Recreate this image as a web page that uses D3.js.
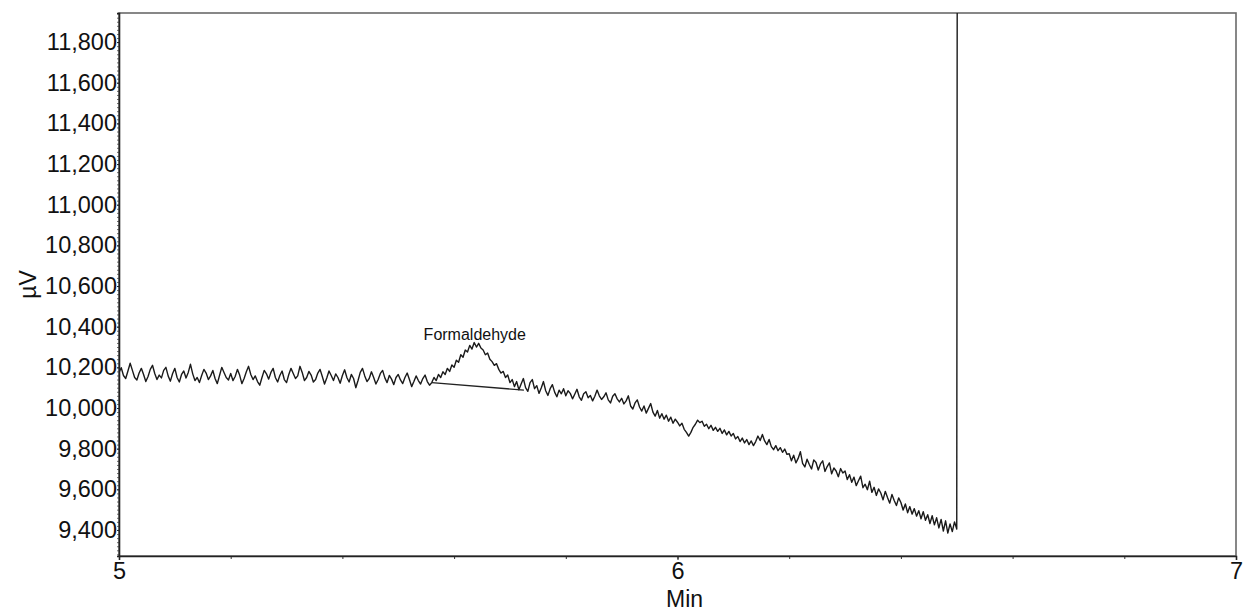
<!DOCTYPE html>
<html>
<head>
<meta charset="utf-8">
<script src="https://cdn.jsdelivr.net/npm/d3@7"></script>
<style>
  html, body { margin: 0; padding: 0; background: #fff; }
  svg { display: block; }
  text { font-family: "Liberation Sans", Arial, sans-serif; fill: #111; }
</style>
</head>
<body>
<svg id="chart" width="1243" height="611"></svg>
<script>
// Detector signal, sampled every 0.004 min from 5.000 min
const sampleStart = 5.0;
const sampleStep = 0.004;
const signalValues = [
  // 5.000 - 5.096
  10175, 10198, 10160, 10145, 10182,  10220, 10185, 10150, 10138, 10172,
  10195, 10165, 10130, 10155, 10190,  10210, 10170, 10140, 10162, 10148,
  10185, 10200, 10158, 10132, 10170,
  // 5.100 - 5.196
  10195, 10150, 10128, 10165, 10182,  10148, 10175, 10215, 10168, 10135,
  10150, 10125, 10160, 10190, 10172,  10140, 10158, 10185, 10145, 10120,
  10160, 10200, 10175, 10150, 10138,
  // 5.200 - 5.296
  10170, 10135, 10155, 10190, 10162,  10120, 10145, 10178, 10205, 10165,
  10140, 10158, 10130, 10112, 10150,  10185, 10168, 10142, 10175, 10195,
  10150, 10128, 10160, 10182, 10140,
  // 5.300 - 5.396
  10125, 10165, 10195, 10170, 10145,  10158, 10205, 10175, 10135, 10150,
  10180, 10162, 10128, 10140, 10172,  10190, 10155, 10118, 10148, 10182,
  10160, 10135, 10168, 10150, 10122,
  // 5.400 - 5.496
  10160, 10188, 10150, 10128, 10165,  10145, 10100, 10135, 10175, 10195,
  10158, 10130, 10145, 10178, 10150,  10118, 10140, 10170, 10185, 10148,
  10125, 10160, 10142, 10115, 10150,
  // 5.500 - 5.596
  10165, 10138, 10120, 10150, 10172,  10140, 10105, 10130, 10158, 10135,
  10118, 10145, 10162, 10130, 10112,  10125, 10150, 10135, 10165, 10150,
  10178, 10165, 10195, 10180, 10212,
  // 5.600 - 5.696 (formaldehyde peak)
  10200, 10235, 10225, 10262, 10250,  10285, 10275, 10308, 10290, 10322,
  10300, 10318, 10295, 10285, 10262,  10270, 10240, 10228, 10210, 10218,
  10190, 10172, 10180, 10150, 10162,
  // 5.700 - 5.796
  10125, 10140, 10105, 10130, 10090,  10118, 10145, 10100, 10082, 10125,
  10140, 10095, 10110, 10072, 10098,  10130, 10085, 10062, 10095, 10115,
  10078, 10055, 10088, 10070, 10095,
  // 5.800 - 5.896
  10060, 10085, 10072, 10045, 10068,  10092, 10055, 10038, 10070, 10080,
  10050, 10062, 10035, 10058, 10088,  10060, 10042, 10055, 10075, 10040,
  10025, 10058, 10070, 10045, 10030,
  // 5.900 - 5.996
  10048, 10020, 10035, 10060, 10010,  9995, 10025, 10040, 10005, 9985,
  10010, 9975, 9998, 10022, 9980,  9960, 9988, 9950, 9972, 9945,
  9965, 9935, 9955, 9925, 9945,
  // 6.000 - 6.096
  9930, 9912, 9925, 9895, 9880,  9862, 9880, 9905, 9920, 9940,
  9928, 9935, 9910, 9920, 9898,  9915, 9890, 9905, 9885, 9900,
  9875, 9892, 9868, 9885, 9862,
  // 6.100 - 6.196
  9875, 9848, 9860, 9835, 9852,  9828, 9845, 9820, 9838, 9815,
  9835, 9862, 9840, 9870, 9838,  9820, 9845, 9810, 9795, 9815,
  9790, 9805, 9782, 9798, 9772,
  // 6.200 - 6.296
  9775, 9740, 9768, 9730, 9752,  9785, 9728, 9710, 9748, 9722,
  9700, 9745, 9732, 9695, 9725,  9740, 9688, 9712, 9730, 9676,
  9705, 9690, 9662, 9702, 9680,
  // 6.300 - 6.396
  9690, 9648, 9672, 9635, 9660,  9618, 9642, 9665, 9608, 9625,
  9598, 9640, 9585, 9610, 9570,  9602, 9582, 9548, 9590, 9560,
  9532, 9575, 9545, 9520, 9558,
  // 6.400 - 6.496
  9535, 9498, 9528, 9485, 9515,  9478, 9505, 9468, 9495, 9455,
  9490, 9448, 9475, 9432, 9470,  9425, 9460, 9410, 9452, 9395,
  9445, 9385, 9430, 9392, 9440,
  // 6.500
  9405
];
// Step at the end of the run (goes off scale)
const tailTimes = [6.501];
const tailValues = [12600];

// Integration baseline drawn under the peak
const baselineTimes = [5.56, 5.725];
const baselineValues = [10125, 10088];

// Peak label
const peakName = "Formaldehyde";
const peakTime = 5.637;
const peakLabelValue = 10335;

// Axes
const xDomain = [5, 7];
const xMajorTicks = [5, 6, 7];
const xMinorStep = 0.2;
const yDomain = [9272, 11943];
const yMajorTicks = [9400, 9600, 9800, 10000, 10200, 10400, 10600, 10800, 11000, 11200, 11400, 11600, 11800];
const yMinorStep = 20;
const xTitle = "Min";
const yTitle = "µV";

const W = 1243, H = 611;
const margin = { left: 119, right: 7, top: 13, bottom: 55 };

const svg = d3.select("#chart");

const x = d3.scaleLinear().domain(xDomain).range([margin.left, W - margin.right]);
const y = d3.scaleLinear().domain(yDomain).range([H - margin.bottom, margin.top]);

const points = signalValues.map((v, i) => [sampleStart + i * sampleStep, v])
  .concat(tailTimes.map((t, i) => [t, tailValues[i]]));

svg.append("clipPath").attr("id", "plotClip")
  .append("rect")
  .attr("x", margin.left).attr("y", margin.top)
  .attr("width", W - margin.left - margin.right)
  .attr("height", H - margin.top - margin.bottom);

// Frame
svg.append("rect")
  .attr("x", margin.left).attr("y", margin.top)
  .attr("width", W - margin.left - margin.right)
  .attr("height", H - margin.top - margin.bottom)
  .attr("fill", "none")
  .attr("stroke", "#6a6a6a")
  .attr("stroke-width", 1.6);

// Trace
const line = d3.line().x(d => x(d[0])).y(d => y(d[1]));
svg.append("path")
  .datum(points)
  .attr("clip-path", "url(#plotClip)")
  .attr("d", line)
  .attr("fill", "none")
  .attr("stroke", "#1a1a1a")
  .attr("stroke-width", 1.4)
  .attr("stroke-linejoin", "round");

// Baseline
svg.append("path")
  .datum(baselineTimes.map((t, i) => [t, baselineValues[i]]))
  .attr("d", line)
  .attr("fill", "none")
  .attr("stroke", "#222")
  .attr("stroke-width", 1.3);

svg.append("text")
  .attr("x", x(peakTime))
  .attr("y", y(peakLabelValue))
  .attr("text-anchor", "middle")
  .attr("font-size", 16)
  .text(peakName);

// Y axis
const yMinor = d3.range(Math.ceil(yDomain[0] / yMinorStep) * yMinorStep, yDomain[1], yMinorStep);
const yAxisMinor = d3.axisLeft(y).tickValues(yMinor).tickSize(2).tickFormat("");
svg.append("g")
  .attr("transform", `translate(${margin.left},0)`)
  .call(yAxisMinor)
  .call(g => g.select(".domain").remove())
  .call(g => g.selectAll("line").attr("stroke", "#444").attr("stroke-width", 0.8));

const yAxis = d3.axisLeft(y).tickValues(yMajorTicks).tickSize(2).tickPadding(0)
  .tickFormat(d3.format(","));
svg.append("g")
  .attr("transform", `translate(${margin.left},0)`)
  .call(yAxis)
  .call(g => g.select(".domain").attr("stroke", "#222").attr("stroke-width", 1.6))
  .call(g => g.selectAll("line").attr("stroke", "#222"))
  .call(g => g.selectAll("text")
    .attr("font-size", 23.5)
    .attr("font-family", "'Liberation Sans', Arial, sans-serif")
    .attr("fill", "#111"));

// X axis
const xMinor = d3.range(xDomain[0], xDomain[1] + 1e-9, xMinorStep);
const xAxisMinor = d3.axisBottom(x).tickValues(xMinor).tickSize(3).tickFormat("");
svg.append("g")
  .attr("transform", `translate(0,${H - margin.bottom})`)
  .call(xAxisMinor)
  .call(g => g.select(".domain").remove())
  .call(g => g.selectAll("line").attr("stroke", "#333"));

const xAxis = d3.axisBottom(x).tickValues(xMajorTicks).tickSize(4).tickPadding(2)
  .tickFormat(d3.format("d"));
svg.append("g")
  .attr("transform", `translate(0,${H - margin.bottom})`)
  .call(xAxis)
  .call(g => g.select(".domain").attr("stroke", "#222").attr("stroke-width", 1.6))
  .call(g => g.selectAll("line").attr("stroke", "#222"))
  .call(g => g.selectAll("text")
    .attr("font-size", 23.5)
    .attr("font-family", "'Liberation Sans', Arial, sans-serif")
    .attr("fill", "#111"));

// Axis titles
svg.append("text")
  .attr("x", (x(xDomain[0]) + x(xDomain[1])) / 2 + 7)
  .attr("y", 607)
  .attr("text-anchor", "middle")
  .attr("font-size", 23)
  .text(xTitle);

svg.append("text")
  .attr("transform", `translate(36,${(margin.top + H - margin.bottom) / 2}) rotate(-90)`)
  .attr("text-anchor", "middle")
  .attr("font-size", 23)
  .text(yTitle);
</script>
</body>
</html>
